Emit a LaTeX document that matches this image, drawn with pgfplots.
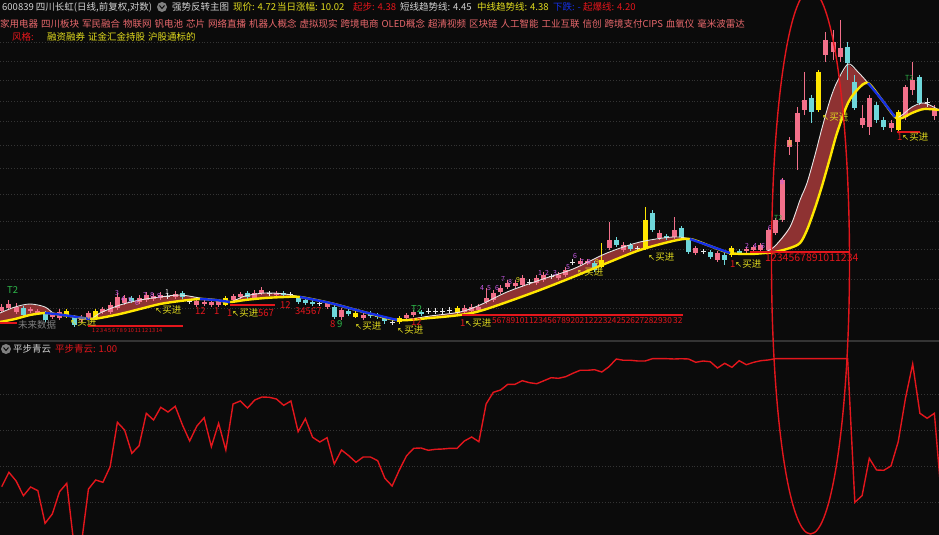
\documentclass[border=0pt]{standalone}
\usepackage{pgfplots}
\pgfplotsset{compat=1.18}
\usepackage{pgfplotstable}
\usepackage{fontspec}
\setmainfont{Noto Sans CJK SC}
\newfontfamily\sym{DejaVu Sans}

\definecolor{bg}{HTML}{0B0B0B}
\definecolor{cup}{HTML}{F2708A}
\definecolor{cdn}{HTML}{6ED7DA}
\definecolor{yl}{HTML}{FFE600}
\definecolor{wt}{HTML}{E6E6E6}
\definecolor{band}{HTML}{8E3232}
\definecolor{bl}{HTML}{1530E8}
\definecolor{rd}{HTML}{E3161C}
\definecolor{pk}{HTML}{E8686C}
\definecolor{hy}{HTML}{E2DC1E}
\definecolor{pu}{HTML}{C85AE6}
\definecolor{gr}{HTML}{2EB84A}
\definecolor{lg}{HTML}{D2D2D2}
\definecolor{gd}{HTML}{343434}

\newcommand\hf{\fontsize{9.5}{11}\selectfont}
\newcommand\tf{\fontsize{7}{8}\selectfont}
\newcommand\buy{{\sym\fontsize{8.5}{10}\selectfont ↖}买进}

% candles in pixel rows: body top/bottom, wick top/bottom
% rising days
\pgfplotstableread{
i bt bb wt wb
0 307 311 304 313
1 304 308 300 310
2 307 312 303 314
4 309 311 307 313
5 311 313 309 315
7 314 317 312 319
8 312 318 309 320
11 317 320 315 322
12 313 318 311 320
14 309 312 307 314
15 305 312 302 314
16 297 308 293 310
17 298 303 295 305
19 298 302 295 304
20 295 300 292 302
21 296 299 293 301
22 295 298 292 300
24 294 297 291 299
27 301 305 299 307
28 302 304 300 306
29 302 305 300 307
30 301 305 299 307
32 296 300 294 302
33 294 297 292 299
35 293 298 290 300
36 290 293 287 295
38 293 295 291 297
45 303 307 301 309
47 310 317 308 320
50 315 318 313 320
56 315 318 313 320
57 312 315 310 317
64 308 312 305 314
65 307 311 304 313
66 307 310 304 312
67 298 302 288 304
68 293 300 290 302
69 288 292 285 294
70 283 287 280 289
71 283 286 280 288
72 278 285 275 287
74 278 283 275 285
75 275 280 272 282
77 275 278 272 280
78 270 275 267 277
80 261 264 258 266
81 261 263 259 265
84 240 248 222 250
86 245 250 242 252
91 233 238 230 240
93 230 237 217 239
96 248 253 246 255
99 253 260 251 262
103 249 251 247 253
104 247 250 245 252
105 245 250 243 252
106 230 250 228 252
107 220 233 218 235
108 180 220 178 222
109 140 147 137 155
110 113 142 107 170
111 100 110 72 115
114 40 55 32 62
115 42 52 30 60
116 48 57 20 62
119 118 125 105 128
120 98 127 95 135
123 123 128 120 132
125 87 117 85 120
126 80 90 62 95
129 110 116 105 120
}\kup
% falling days
\pgfplotstableread{
i bt bb wt wb
3 308 315 306 317
6 313 320 311 322
10 317 325 315 327
18 298 301 296 303
25 293 297 291 299
34 293 297 291 299
39 293 295 291 297
41 298 302 296 304
42 300 303 298 305
43 302 304 300 306
46 307 317 305 319
48 311 314 309 316
51 313 316 311 318
52 315 317 313 319
53 318 321 316 324
58 312 314 310 316
82 263 270 261 272
85 240 245 237 247
87 245 249 243 251
90 213 230 210 232
92 236 238 234 240
94 228 237 226 239
95 240 252 238 254
98 252 257 250 259
100 255 260 253 265
102 251 253 249 255
112 98 112 95 123
117 47 63 42 80
118 82 108 75 110
121 105 120 102 123
122 120 127 117 130
127 77 103 75 105
}\kdn
% signal days (yellow)
\pgfplotstableread{
i bt bb wt wb
9 311 315 309 318
13 311 318 309 319
31 298 305 296 306
49 313 317 311 318
55 318 322 316 324
63 308 313 306 315
83 260 267 243 268
89 220 248 207 250
101 248 255 246 257
113 72 110 70 112
124 112 130 110 132
}\kyl
% doji days
\pgfplotstableread{
i bt bb wt wb
23 296 297 293 299
26 301 302 299 304
37 293 294 291 296
40 294 295 292 297
44 303 304 301 306
54 322 323 320 325
59 311 312 308 314
60 311 312 308 314
61 311 312 308 314
62 310 311 307 313
73 282 283 279 285
76 276 277 274 279
79 262 263 259 265
88 248 249 246 251
97 251 252 249 254
128 102 103 98 107
}\kwt

% trend lines: y = yellow (mid), w = white (short)
\pgfplotstableread{
x y w
0 322 313
15 319 307
30 315 304
45 313 307
55 314 314
70 316 316
90 319 319
100 318 313
120 314 305
140 309 300
160 304 297
180 301 295
200 299 298
215 300 300
230 302 302
245 300 296
265 298 293
285 297 294
300 297 297
330 303 303
360 311 311
397 320 320
430 318 316
460 315 312
480 311 305
507 302 292
540 290 280
573 277 269
607 263 253
640 250 242
673 241 237
690 239 239
710 246 246
730 253 253
750 254 254
765 253 252
775 252 246
790 248 227
800 243 200
807 230 183
815 208 155
822 186 128
830 158 100
837 133 82
848 103 64
858 89 72
868 83 83
882 100 100
895 117 117
902 118 115
912 113 107
924 109 103
939 110 110
}\ma

% band between the two trend lines (white forward, yellow back)
\pgfplotstableread{
x y
0 313
15 307
30 304
45 307
55 314
70 316
90 319
100 313
120 305
140 300
160 297
180 295
200 298
215 300
230 302
245 296
265 293
285 294
300 297
330 303
360 311
397 320
430 316
460 312
480 305
507 292
540 280
573 269
607 253
640 242
673 237
690 239
710 246
730 253
750 254
765 252
775 246
790 227
800 200
807 183
815 155
822 128
830 100
837 82
848 64
858 72
868 83
882 100
895 117
902 115
912 107
924 103
939 110
924 109
912 113
902 118
895 117
882 100
868 83
858 89
848 103
837 133
830 158
822 186
815 208
807 230
800 243
790 248
775 252
765 253
750 254
730 253
710 246
690 239
673 241
640 250
607 263
573 277
540 290
507 302
480 311
460 315
430 318
397 320
360 311
330 303
300 297
285 297
265 298
245 300
230 302
215 300
200 299
180 301
160 304
140 309
120 314
100 318
90 319
70 316
55 314
45 313
30 315
15 319
0 322
}\bandpoly

% 平步青云 indicator
\pgfplotstableread{
i v
0 486.7
1 472.3
2 481
3 495.7
4 487
5 490.7
6 523.3
7 514
8 491.7
9 483.3
10 545
11 545
12 489
13 480
14 482.3
15 466.7
16 422.3
17 430
18 453.3
19 445.7
20 413.3
21 420
22 407.3
23 412
24 406.3
25 425
26 441
27 426
28 417.7
29 446.7
30 423.3
31 450
32 404
33 401
34 408
35 400
36 397
37 397.3
38 399
39 405.3
40 401
41 431.7
42 418.7
43 437.3
44 442
45 437.7
46 464
47 450
48 455.7
49 462.3
50 457
51 457
52 460.7
53 478.3
54 486
55 470
56 455.7
57 448.3
58 448
59 450.3
60 449.3
61 449
62 448.3
63 448.3
64 441
65 437
66 441.7
67 404
68 392.3
69 390
70 384.3
71 384.3
72 380.7
73 382.7
74 383.7
75 380.7
76 377.7
77 378.3
78 376.7
79 373.3
80 370.3
81 370.3
82 369.7
83 372
84 366.7
85 359
86 360.3
87 360.3
88 361
89 361
90 358.7
91 358.7
92 358.7
93 359
94 358.7
95 359
96 362.3
97 361
98 361.7
99 368
100 363.3
101 367.3
102 360.7
103 364.7
104 362.3
105 360.7
106 360
107 358.7
108 358.7
109 358.7
110 358.7
111 358.7
112 358.7
113 358.7
114 358.7
115 358.7
116 358.7
117 358.7
118 502.3
119 495.7
120 458.3
121 470
122 470.3
123 466
124 441.7
125 398.3
126 364
127 413.3
128 418.3
129 413.3
130 500
}\pbqy

\pgfplotsset{
  panel/.style={scale only axis, width=939pt, xmin=0, xmax=939, y dir=reverse,
    hide axis},
}
% wick and body of each candle, drawn as vertical quiver strokes
\newcommand\candle[2]{%
  \addplot[color=#2, line width=1pt, forget plot,
    quiver={u=0, v=\thisrow{wb}-\thisrow{wt}}]
    table[x expr=1.7+7.23*\thisrow{i}, y=wt] {#1};
  \addplot[color=#2, line width=5pt, forget plot,
    quiver={u=0, v=\thisrow{bb}-\thisrow{bt}}]
    table[x expr=1.7+7.23*\thisrow{i}, y=bt] {#1};
}
\tikzset{lab/.style={anchor=west, inner sep=0pt, font=\hf},
  dig/.style={inner sep=0pt, font=\tf}}

\begin{document}
\begin{tikzpicture}
\fill[bg] (0,0) rectangle (939pt,535pt);

% lower panel
\begin{axis}[panel, at={(0pt,0pt)}, anchor=south west, height=193pt,
  ymin=342, ymax=535]
\pgfplotsinvokeforeach{394,430,466,502}{
  \addplot[gd, dotted, line width=0.8pt, forget plot] coordinates {(0,#1) (939,#1)};}
\addplot[rd, line width=1.4pt] table[x expr=1.7+7.23*\thisrow{i}, y=v] {\pbqy};
\end{axis}

% main panel
\begin{axis}[panel, at={(0pt,535pt)}, anchor=north west, height=340pt,
  ymin=0, ymax=340, clip mode=individual]
\pgfplotsinvokeforeach{42.7,61.7,80.7,101,121.7,145,168.3,194,221,249,279,308}{
  \addplot[gd, dotted, line width=0.8pt, forget plot] coordinates {(0,#1) (939,#1)};}
\addplot[band, draw=none, fill=band] table[x=x, y=y] {\bandpoly};

\candle{\kup}{cup}
\candle{\kdn}{cdn}
\candle{\kyl}{yl}
\candle{\kwt}{wt}

\addplot[wt, line width=0.9pt, smooth] table[x=x, y=w] {\ma};
\addplot[yl, line width=2.4pt, smooth] table[x=x, y=y] {\ma};
\addplot[bl, line width=2.4pt, smooth, restrict x to domain=45:90] table[x=x, y=y] {\ma};
\addplot[bl, line width=2.4pt, smooth, restrict x to domain=200:230] table[x=x, y=y] {\ma};
\addplot[bl, line width=2.4pt, smooth, restrict x to domain=300:397] table[x=x, y=y] {\ma};
\addplot[bl, line width=2.4pt, smooth, restrict x to domain=690:730] table[x=x, y=y] {\ma};
\addplot[bl, line width=2.4pt, smooth, restrict x to domain=868:895] table[x=x, y=y] {\ma};

% signal bars
\addplot[rd, line width=2pt] coordinates {(0,323) (17,323)};
\addplot[rd, line width=2pt] coordinates {(88,326) (183,326)};
\addplot[rd, line width=2pt] coordinates {(230,305) (275,305)};
\addplot[rd, line width=2pt] coordinates {(462,315) (683,315)};
\addplot[rd, line width=2pt] coordinates {(750,252) (850,252)};
\addplot[rd, line width=2pt] coordinates {(897,132) (920,132)};

% buy labels
\node[lab, text=hy] at (155,310) {\buy};
\node[lab, text=hy] at (70,322) {\buy};
\node[lab, text=rd] at (227,313) {1};
\node[lab, text=hy] at (232,313) {\buy};
\node[lab, text=hy] at (355,326) {\buy};
\node[lab, text=hy] at (397,330) {\buy};
\node[lab, text=rd] at (460,323) {1};
\node[lab, text=hy] at (465,323) {\buy};
\node[lab, text=hy] at (577,272) {\buy};
\node[lab, text=hy] at (648,257) {\buy};
\node[lab, text=rd] at (730,264) {1};
\node[lab, text=hy] at (735,264) {\buy};
\node[lab, text=hy] at (822,117) {\buy};
\node[lab, text=rd] at (897,137) {1};
\node[lab, text=hy] at (902,137) {\buy};

% counters
\node[lab, text=rd] at (195,311) {12};
\node[lab, text=rd] at (214,311) {1};
\node[lab, text=rd] at (258,313) {567};
\node[lab, text=rd] at (280,305) {12};
\node[lab, text=rd] at (295,311) {34567};
\node[lab, text=rd] at (330,324) {8};
\node[lab, text=gr] at (337,324) {9};
\node[lab, text=rd] at (411,322) {12};
\node[lab, text=rd, font=\fontsize{8.3}{9}\selectfont] at (492,321) {567891011234567892021222324252627282930\,32};
\node[lab, text=rd, font=\fontsize{10.5}{12}\selectfont] at (765,258) {1234567891011234};
\node[lab, text=rd, font=\fontsize{5.5}{6}\selectfont] at (92,331) {1\,2\,3\,4\,5\,6\,7\,8\,9\,10\,11\,12\,13\,14};
\node[lab, text=gray] at (18,325) {未来数据};
\node[lab, text=gr] at (7,290) {T2};
\node[lab, text=gr] at (411,309) {T2};
\node[lab, text=gr, font=\tf] at (774,218) {T2};
\node[lab, text=gr, font=\tf] at (905,78) {T2};

% small day counters above candles
\foreach \px/\py/\d in {117/293/3,123/299/4,130/300/5,137/303/6,145/295/7,152/295/8,159/296/9,
  482/288/4,489/288/5,497/288/6,503/279/7,510/282/8,540/273/1,547/273/2,555/273/3,568/267/5,
  575/256/6,582/262/7,589/262/8,747/246/2,755/246/4,763/246/6,770/228/6,782/182/8}
  {\edef\tmp{\noexpand\node[dig, text=pu] at (\px,\py) {\d};}\tmp}
\node[dig, text=hy] at (518,280) {9};
\node[dig, text=hy] at (597,262) {9};
\node[dig, text=hy] at (790,143) {8};
\node[dig, text=wt] at (167,292) {1};

% header
\node[lab, text=lg] at (2,7) {600839 四川长虹(日线,前复权,对数)};
\fill[gray] (162,7) circle (5pt);
\draw[bg, line width=1pt] (159.5,5.5) -- (162,8.5) -- (164.5,5.5);
\node[lab, text=lg] at (172,7) {强势反转主图};
\node[lab, text=hy] at (233,7) {现价: 4.72};
\node[lab, text=hy] at (277,7) {当日涨幅: 10.02};
\node[lab, text=rd] at (353,7) {起步: 4.38};
\node[lab, text=lg] at (400,7) {短线趋势线: 4.45};
\node[lab, text=hy] at (477,7) {中线趋势线: 4.38};
\node[lab, text=bl] at (553,7) {下跌: -};
\node[lab, text=rd] at (583,7) {起爆线: 4.20};
\node[lab, text=pk] at (0,24) {\spaceskip=3pt 家用电器 四川板块 军民融合 物联网 钒电池 芯片 网络直播 机器人概念 虚拟现实 跨境电商 OLED概念 超清视频 区块链 人工智能 工业互联 信创 跨境支付CIPS 血氧仪 毫米波雷达};
\node[lab, text=rd] at (12,37) {风格:};
\node[lab, text=hy] at (47,37) {\spaceskip=3pt 融资融券 证金汇金持股 沪股通标的};

% lower panel header and separator
\draw[gd, line width=1.5pt] (0,341) -- (939,341);
\fill[gray] (6,349) circle (5pt);
\draw[bg, line width=1pt] (3.5,347.5) -- (6,350.5) -- (8.5,347.5);
\node[lab, text=lg] at (13,349) {平步青云};
\node[lab, text=rd] at (55,349) {平步青云: 1.00};
\end{axis}

\draw[rd, line width=1.4pt, overlay] (810.5pt,273pt) ellipse [x radius=39pt, y radius=272pt];
\pgfresetboundingbox
\path[use as bounding box] (0,0) rectangle (939pt,535pt);
\end{tikzpicture}
\end{document}
